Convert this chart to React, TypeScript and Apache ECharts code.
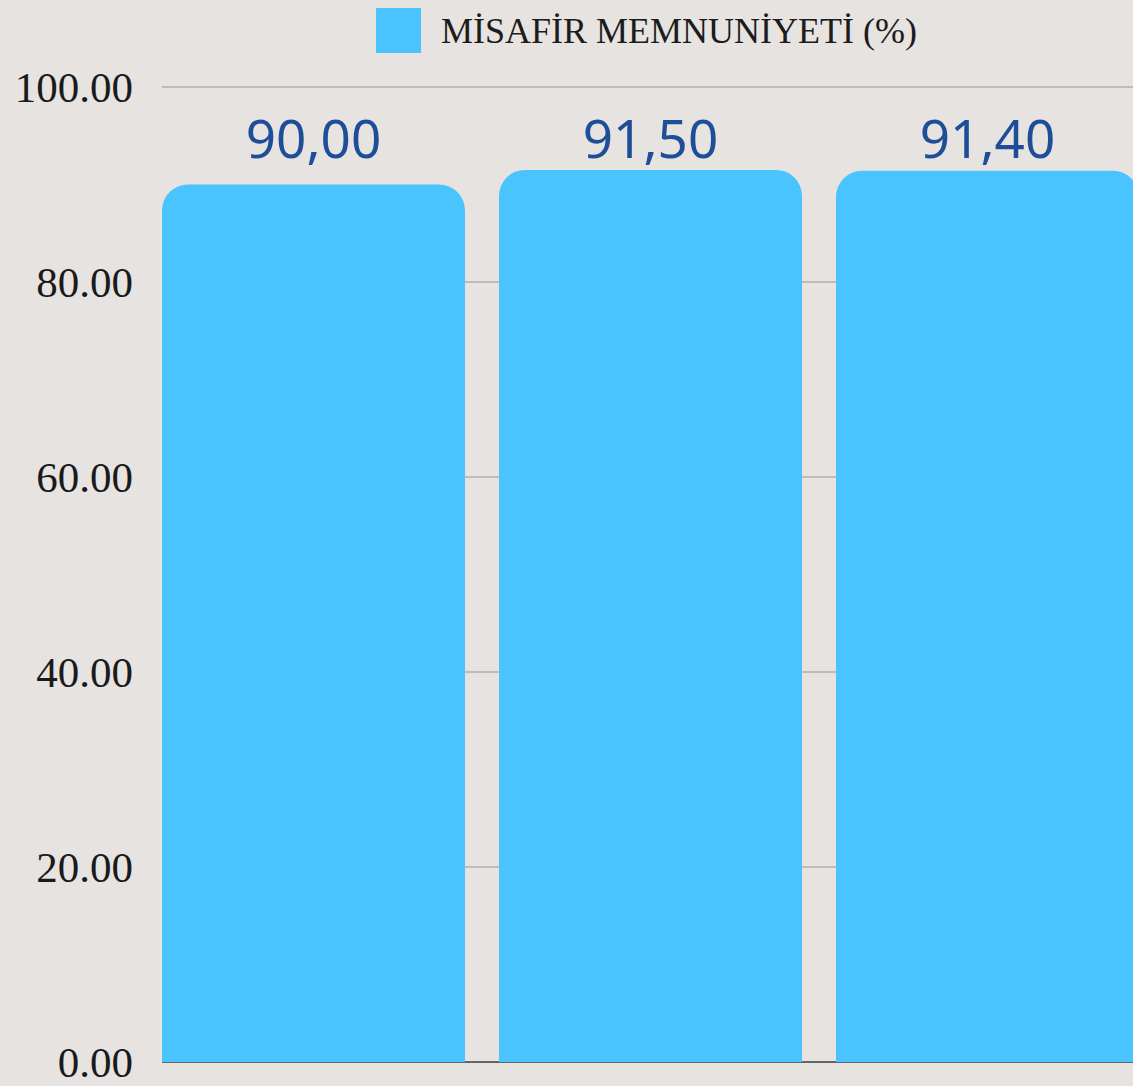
import React, { useEffect, useRef } from "react";
import * as echarts from "echarts";

const categories = ["Dönem 1", "Dönem 2", "Dönem 3"];
const seriesName = "MİSAFİR MEMNUNİYETİ (%)";
const satisfaction = [90.0, 91.5, 91.4];
const yMin = 0;
const yMax = 100;
const yInterval = 20;

const BG = "#e7e3e0";
const GRID_TOP = 87;
const GRID_BOTTOM = 24;
const CHART_H = 1086;

export default function App() {
  const ref = useRef<HTMLDivElement>(null);
  useEffect(() => {
    if (!ref.current) return;
    const chart = echarts.init(ref.current, undefined, { renderer: "svg" });
    const pxPerUnit = (CHART_H - GRID_TOP - GRID_BOTTOM) / (yMax - yMin);
    const topVal = Math.max(...satisfaction);
    chart.setOption({
      animation: false,
      backgroundColor: BG,
      legend: {
        left: 376,
        top: 8,
        padding: 0,
        itemWidth: 45,
        itemHeight: 45,
        icon: "rect",
        textStyle: {
          fontFamily: "Liberation Serif",
          fontSize: 36,
          color: "#1c1c1c",
          padding: [0, 0, 0, 15],
        },
        data: [seriesName],
      },
      grid: { left: 145, right: 0, top: GRID_TOP, bottom: GRID_BOTTOM, containLabel: false },
      xAxis: {
        type: "category",
        data: categories,
        axisLabel: { show: false },
        axisTick: { show: false },
        axisLine: { show: true, lineStyle: { color: "#666", width: 2 } },
      },
      yAxis: {
        type: "value",
        min: yMin,
        max: yMax,
        interval: yInterval,
        axisLine: { show: false },
        axisTick: { show: false },
        axisLabel: {
          formatter: (v: number) => v.toFixed(2),
          fontFamily: "Liberation Serif",
          fontSize: 43,
          color: "#1a1a1a",
          margin: 12,
        },
        splitLine: { lineStyle: { color: "#b3aeaa", width: 1.5 } },
      },
      graphic: [
        {
          type: "rect",
          z: 1,
          shape: { x: 138, y: 78, width: 24, height: 990 },
          style: { fill: BG },
        },
      ],
      series: [
        {
          name: seriesName,
          type: "bar",
          data: satisfaction.map((v) => ({
            value: v,
            label: { distance: 6 + (topVal - v) * pxPerUnit },
          })),
          barWidth: 303,
          itemStyle: { color: "#49c4fe", borderRadius: [26, 26, 0, 0] },
          z: 3,
          label: {
            show: true,
            position: "top",
            formatter: (p: any) => p.value.toFixed(2).replace(".", ","),
            fontFamily: "Noto Sans",
            fontSize: 53,
            color: "#1e4e9a",
          },
        },
      ],
    });
    return () => chart.dispose();
  }, []);
  return (
    <div
      ref={ref}
      style={{ position: "fixed", left: 0, top: 0, width: 1156, height: CHART_H }}
    />
  );
}
